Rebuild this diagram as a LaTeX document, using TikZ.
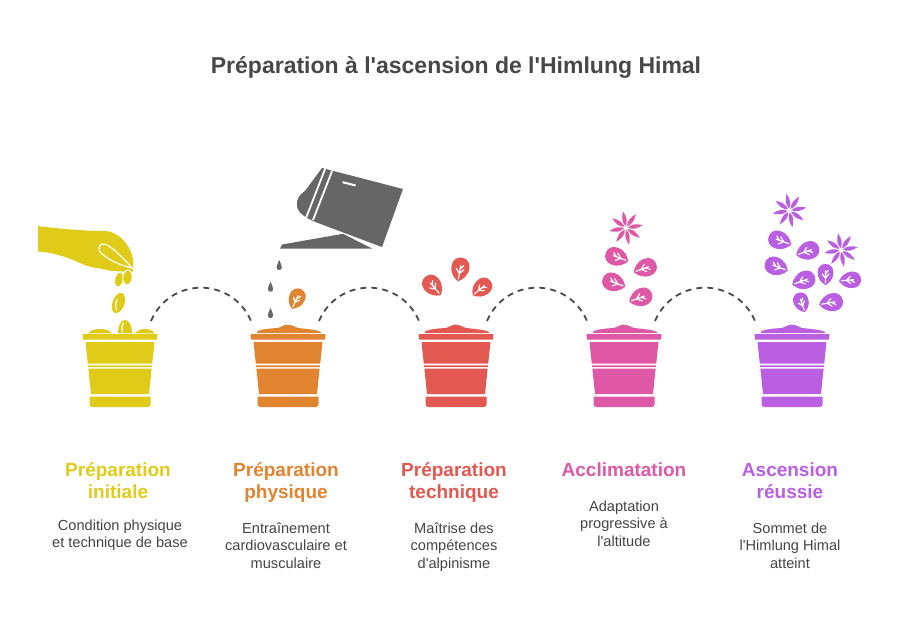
\documentclass[tikz,border=0pt]{standalone}
\usepackage{fontspec}
\setmainfont{Liberation Sans}[Ligatures=TeXOff]
\definecolor{cyel}{HTML}{E0CC18}
\definecolor{cora}{HTML}{E08430}
\definecolor{cred}{HTML}{E45852}
\definecolor{cpink}{HTML}{DE58A6}
\definecolor{cpur}{HTML}{BA5EE2}
\definecolor{ccan}{HTML}{666666}
\definecolor{ctxt}{HTML}{454545}
\definecolor{ctitle}{HTML}{474747}
\definecolor{carc}{HTML}{4A4A4A}
\begin{document}
\begin{tikzpicture}[x=1pt,y=-1pt,
  titlestyle/.style={anchor=base,inner sep=0pt,text=ctitle,font=\fontsize{23}{27}\selectfont\bfseries},
  head/.style={anchor=base,inner sep=0pt,font=\fontsize{19}{22}\selectfont\bfseries},
  desc/.style={anchor=base,inner sep=0pt,text=ctxt,font=\fontsize{14.6}{17}\selectfont},
  arcline/.style={draw=carc,line width=1.8pt,dash pattern=on 6pt off 5pt},
  veins/.style={draw=white,line width=1.2pt,line cap=round},
  pics/pot/.style={code={
    \fill[#1] (-37.5,334) -- (37.5,334) -- (37,339.5) -- (-37,339.5) -- cycle;
    \fill[#1] (-34.5,342) -- (34.5,342) -- (32.2,363.5) -- (-32.2,363.5) -- cycle;
    \fill[#1] (-32,365.3) -- (32,365.3) -- (31.8,367) -- (-31.8,367) -- cycle;
    \fill[#1] (-31.6,368.7) -- (31.6,368.7) -- (29,394) -- (-29,394) -- cycle;
    \fill[#1] (-30.5,396.5) -- (30.5,396.5) -- (30.5,404) .. controls (30.5,406) and (29.5,407) .. (27.5,407)
       -- (-27.5,407) .. controls (-29.5,407) and (-30.5,406) .. (-30.5,404) -- cycle;
  }},
  pics/mound/.style={code={
    \fill[#1] (-31,333) -- (-31,331.5) .. controls (-28,329.5) and (-20,328.5) .. (-10,328)
      .. controls (-7,327.5) and (-5,325) .. (-1,324.7) .. controls (3,324.5) and (6,326.5) .. (10,328)
      .. controls (20,329) and (30,330) .. (33,332) -- (33,333) -- cycle;
  }},
  pics/leaf/.style={code={
    \fill[#1] (12,0) .. controls (9.5,-4.5) and (5,-9) .. (-2.5,-9) .. controls (-8.5,-9) and (-12,-5) .. (-12,0)
      .. controls (-12,5) and (-8.5,9) .. (-2.5,9) .. controls (5,9) and (9.5,4.5) .. (12,0) -- cycle;
    \draw[veins] (9.5,0) -- (-4,0) (4,0) -- (-0.5,-3.8) (4,0) -- (-0.5,3.8) (-0.5,0) -- (-4.5,-3);
  }},
  pics/flower/.style={code={
    \foreach \a in {0,45,...,315}{
      \fill[#1,rotate=\a] (2,0) .. controls (6,3) and (11,2.6) .. (17,0) .. controls (11,-2.6) and (6,-3) .. (2,0);
    }
  }},
  pics/drop/.style={code={
    \fill[ccan] (0,0) .. controls (1.5,3.5) and (2.6,5.5) .. (2.6,7.4) .. controls (2.6,9.2) and (1.4,10) .. (0,10)
      .. controls (-1.4,10) and (-2.6,9.2) .. (-2.6,7.4) .. controls (-2.6,5.5) and (-1.5,3.5) .. (0,0) -- cycle;
  }}
]
\useasboundingbox[fill=white] (0,0) rectangle (912,625);

% title
\node[titlestyle] (title) at (456,73.3) {Préparation à l'ascension de l'Himlung Himal};

% pots
\pic (pot1) at (120,0) {pot=cyel};
\pic (pot2) at (288,0) {pot=cora};
\pic (pot3) at (456,0) {pot=cred};
\pic (pot4) at (624,0) {pot=cpink};
\pic (pot5) at (792,0) {pot=cpur};
\pic (mound2) at (288,0) {mound=cora};
\pic (mound3) at (456,0) {mound=cred};
\pic (mound4) at (624,0) {mound=cpink};
\pic (mound5) at (792,0) {mound=cpur};

% yellow pot: bumps and seeds
\fill[cyel] (88,333.3) .. controls (92,327.5) and (108,327.5) .. (112,333.3) -- cycle;
\fill[cyel] (135,333.3) .. controls (139,327.5) and (151,327.5) .. (155,333.3) -- cycle;
\fill[cyel] (118,333.3) .. controls (118,324) and (122,320) .. (125,320) .. controls (128,320) and (132,324) .. (132,333.3) -- cycle;
\draw[veins] (123.5,323) .. controls (121.5,326) and (121.5,329) .. (122.5,332);
\fill[cyel] (118.5,303) ellipse[x radius=6, y radius=10.5, rotate=-20];
\draw[veins] (117,299.5) .. controls (115.3,303) and (115.3,307) .. (116.5,310);

% hand
\fill[cyel] (38,226) .. controls (60,229) and (85,231) .. (106,231) .. controls (116,232) and (126,240) .. (131,252)
  .. controls (134,260) and (133.5,266) .. (132.5,272) -- (112,271)
  .. controls (100,268) and (90,268) .. (80,263) .. controls (65,256) and (50,252) .. (38,251.5) -- cycle;
\filldraw[fill=cyel,draw=white,line width=0.9pt] (119,279.5) ellipse[x radius=4.3, y radius=7.5, rotate=-12];
\filldraw[fill=cyel,draw=white,line width=0.9pt] (127.5,277.5) ellipse[x radius=4.6, y radius=7.5, rotate=-5];
\draw[veins] (99,248) .. controls (99,242) and (106,243) .. (113,249) .. controls (120,255) and (127,262) .. (132,268)
  .. controls (122,266) and (108,260) .. (101,253) .. controls (99.5,251.5) and (99,250) .. (99,248);

% watering can
\begin{scope}
  \path[clip] (322,168) -- (403,189) -- (382,247) -- (318,223) .. controls (308,219) and (298,214) .. (297,206)
    .. controls (296,199) and (300,194) .. (305,191) -- cycle;
  \fill[ccan] (290,160) rectangle (410,250);
  \draw[white,line width=1.8pt] (327,164) -- (306,218) (334,166) -- (313,220);
\end{scope}
\draw[white,line width=2pt,line cap=round] (343,182.3) -- (355,185.3);
\fill[ccan] (280,248.5) -- (282,244.5) -- (343,233.8) -- (372,248.5) -- cycle;
\pic (drop1) at (279.2,260) {drop};
\pic (drop2) at (270.5,281.7) {drop};
\pic (drop3) at (270.5,308) {drop};

% leaves
\pic[rotate=-115,scale=0.9] (lo1) at (296.5,299) {leaf=cora};
\pic[rotate=-50] (lr1) at (433,286) {leaf=cred};
\pic[rotate=-100] (lr2) at (460,269.5) {leaf=cred};
\pic[rotate=-140,scale=0.95] (lr3) at (481.5,288) {leaf=cred};
\pic[rotate=-20] (lp1) at (617,257) {leaf=cpink};
\pic[rotate=200] (lp2) at (645,268) {leaf=cpink};
\pic[rotate=-20] (lp3) at (614,282.5) {leaf=cpink};
\pic[rotate=200] (lp4) at (640.5,297.5) {leaf=cpink};
\pic[rotate=10] (fp1) at (626,228) {flower=cpink};
\pic[rotate=-20] (lu1) at (780,240.5) {leaf=cpur};
\pic[rotate=200] (lu2) at (807.5,251) {leaf=cpur};
\pic[rotate=-20] (lu3) at (776.5,266.5) {leaf=cpur};
\pic[rotate=200] (lu4) at (803.5,280.5) {leaf=cpur};
\pic[rotate=-90,scale=0.88] (lu5) at (825.5,274.5) {leaf=cpur};
\pic[rotate=185,scale=0.92] (lu6) at (850,280) {leaf=cpur};
\pic[rotate=-70,scale=0.85] (lu7) at (801.5,302.5) {leaf=cpur};
\pic[rotate=190] (lu8) at (831,302.5) {leaf=cpur};
\pic[rotate=10] (fu1) at (789.5,210.5) {flower=cpur};
\pic[rotate=10] (fu2) at (841,250) {flower=cpur};

% dashed connectors
\coordinate (s1) at (151,321); \coordinate (e1) at (251,321);
\coordinate (s2) at (319,321); \coordinate (e2) at (419,321);
\coordinate (s3) at (487,321); \coordinate (e3) at (587,321);
\coordinate (s4) at (655,321); \coordinate (e4) at (755,321);
\foreach \i in {1,2,3,4}{
  \draw[arcline] (s\i) .. controls +(19,-44.4) and +(-19,-44.4) .. (e\i);
}

% headings
\node[head,text=cyel] (h1a) at (118,476.7) {Préparation};
\node[head,text=cyel] (h1b) at (118,498.3) {initiale};
\node[head,text=cora] (h2a) at (286,476.7) {Préparation};
\node[head,text=cora] (h2b) at (286,498.3) {physique};
\node[head,text=cred] (h3a) at (454,476.7) {Préparation};
\node[head,text=cred] (h3b) at (454,498.3) {technique};
\node[head,text=cpink] (h4a) at (624,476.7) {Acclimatation};
\node[head,text=cpur] (h5a) at (790,476.7) {Ascension};
\node[head,text=cpur] (h5b) at (790,498.3) {réussie};

% descriptions
\node[desc] (d1a) at (120,530) {Condition physique};
\node[desc] (d1b) at (120,547.5) {et technique de base};
\node[desc] (d2a) at (286,533.3) {Entraînement};
\node[desc] (d2b) at (286,550.8) {cardiovasculaire et};
\node[desc] (d2c) at (286,568.3) {musculaire};
\node[desc] (d3a) at (454,533.3) {Maîtrise des};
\node[desc] (d3b) at (454,550.8) {compétences};
\node[desc] (d3c) at (454,568.3) {d'alpinisme};
\node[desc] (d4a) at (624,511) {Adaptation};
\node[desc] (d4b) at (624,528.5) {progressive à};
\node[desc] (d4c) at (624,546) {l'altitude};
\node[desc] (d5a) at (790,533.3) {Sommet de};
\node[desc] (d5b) at (790,550.8) {l'Himlung Himal};
\node[desc] (d5c) at (790,568.3) {atteint};
\end{tikzpicture}
\end{document}
